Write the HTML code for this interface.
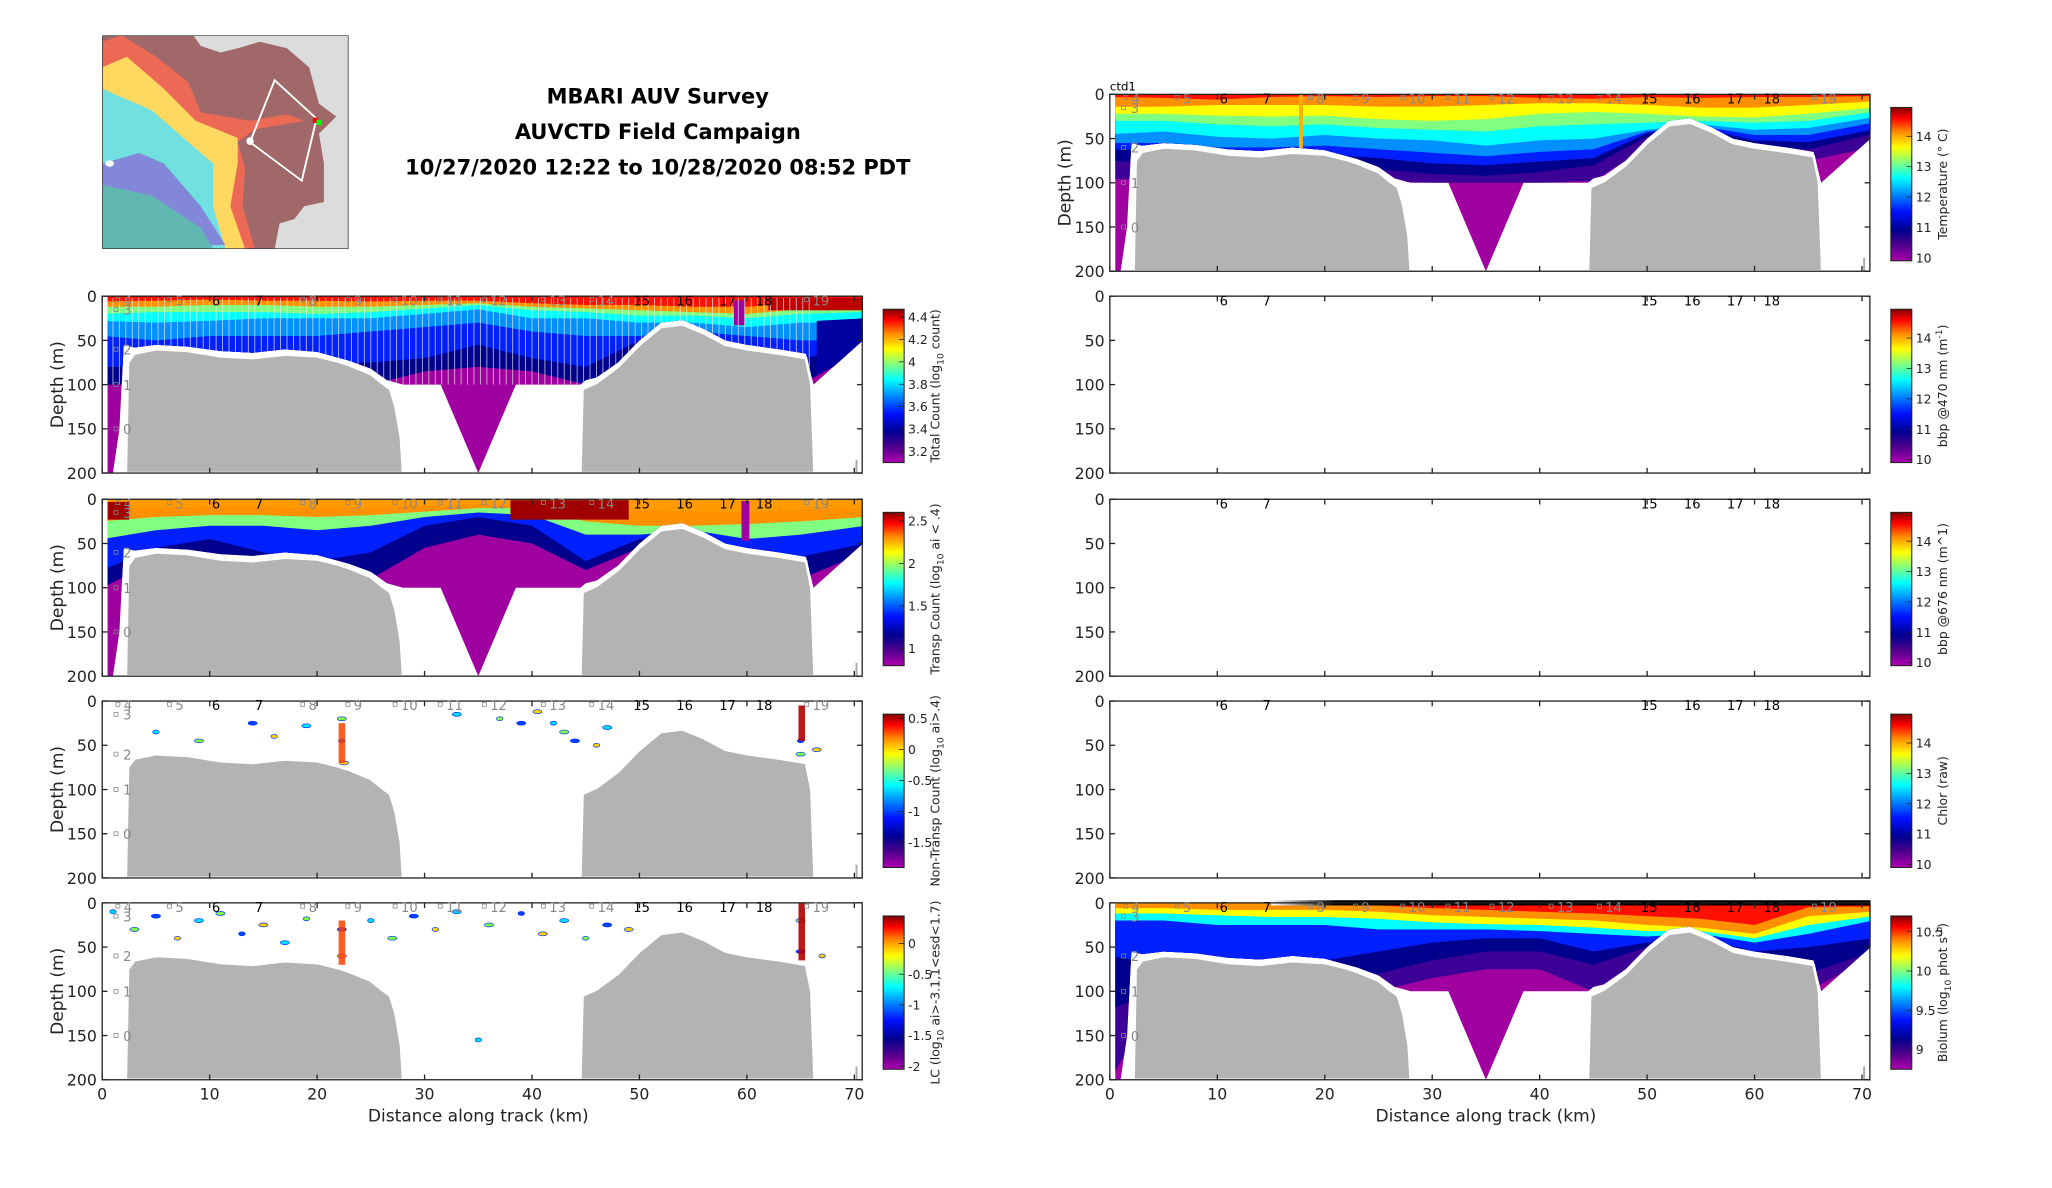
<!DOCTYPE html>
<html><head><meta charset="utf-8"><style>
html,body{margin:0;padding:0;background:#fff;}
svg{display:block;font-family:"DejaVu Sans","Liberation Sans",sans-serif;}
</style></head><body>
<svg id="fig" width="2052" height="1188" viewBox="0 0 1566 906.6" preserveAspectRatio="none" xmlns="http://www.w3.org/2000/svg">
<defs>
<linearGradient id="jet" x1="0" y1="1" x2="0" y2="0">
<stop offset="0" stop-color="#b000b0"/><stop offset="0.1" stop-color="#50008c"/><stop offset="0.2" stop-color="#000090"/><stop offset="0.32" stop-color="#0010ff"/><stop offset="0.44" stop-color="#0090ff"/><stop offset="0.54" stop-color="#00ffff"/><stop offset="0.64" stop-color="#80ff80"/><stop offset="0.74" stop-color="#ffff00"/><stop offset="0.84" stop-color="#ff8c00"/><stop offset="0.93" stop-color="#ff0000"/><stop offset="1" stop-color="#800000"/>
</linearGradient>
<linearGradient id="fadebar" x1="0" x2="1"><stop offset="0" stop-color="#fff"/><stop offset="1" stop-color="#000"/></linearGradient>
</defs>
<g id="root"></g>
</svg>
<script>
// ---- data ----
const xTicks = [0,10,20,30,40,50,60,70];
const yTicks = [0,50,100,150,200];
const stationLabels = ['4','5','6','7','8','9','10','11','12','13','14','15','16','17','18','19'];
const stationKm =     [1.4,6.2,10.6,14.6,18.6,22.8,27.2,31.4,35.5,41,45.5,50.2,54.2,58.2,61.6,65.5];
const stationBlack =  [0,0,1,1,0,0,0,0,0,0,0,1,1,1,1,0];
const sideLabels = ['3','2','1','0'];
const sideDepth = [15,60,100,150];
const bathyKmL = [2.2,2.4,3,5,8,11,14,17,20,22,23,25,26,26.8,27.3,27.8,28];
const bathyDepL = [200,75,65,60,62,68,70,66,68,74,78,88,98,105,125,160,200];
const bathyKmR = [44.5,44.7,46,48,50,52,54,56,58,60,63,65.5,66,66.3];
const bathyDepR = [200,105,98,80,55,35,32,42,55,60,65,70,100,200];
const dataKm  = [0.5,1.0,1.6,2.0,3,5,8,11,14,17,20,23,25,26.5,28,31.5,35,38.5,44.5,45,46,48,50,52,54,56,58,60,63,65.5,66.2,70.8];
const dataBot = [200,200,150,55,58,55,57,62,64,60,63,73,82,95,100,100,200,100,100,95,92,75,50,30,27,37,50,55,60,65,100,50];
const gridKm = [0,5,10,15,20,25,30,35,40,45,50,55,60,65,71];
const tempLevels = [
 [96,96,98,98,96,98,100,100,100,98,60,50,70,75,60],
 [75,78,80,80,80,85,90,92,88,80,48,40,60,62,45],
 [62,64,68,70,68,72,78,80,76,72,44,38,52,54,40],
 [55,55,60,60,58,62,66,70,65,62,42,36,46,46,32],
 [45,42,48,50,46,50,52,58,52,50,40,34,40,38,26],
 [30,30,34,36,34,38,40,42,36,34,32,30,32,30,20],
 [22,22,24,25,24,28,30,28,22,20,22,25,26,22,15],
 [14,14,12,12,12,14,14,12,10,10,12,15,15,12,8],
 [3,4,6,3,2,3,2,2,4,5,3,4,3,3,2]];
const countLevels = [
 [100,100,100,100,100,100,85,80,85,100,60,50,70,100,60],
 [80,80,80,78,75,75,70,55,70,80,50,45,60,70,60],
 [45,50,45,45,45,40,35,30,40,45,45,40,45,50,50],
 [28,30,28,25,25,25,20,15,25,25,30,30,35,30,30],
 [20,18,18,18,20,18,14,10,16,18,22,22,25,20,18],
 [12,12,10,10,12,12,10,8,12,14,16,18,20,15,12],
 [6,5,4,5,5,6,5,5,8,10,10,12,12,8,8]];
const transpLevels = [
 [100,70,60,100,100,90,55,40,50,80,55,45,70,90,60],
 [80,55,45,60,70,60,30,20,30,70,45,40,60,65,50],
 [45,35,30,30,35,30,20,15,18,40,40,35,45,40,30],
 [25,20,18,18,20,18,14,10,10,25,30,30,28,25,20],
 [10,10,8,8,10,10,8,6,6,10,12,14,15,12,10]];
const biolumLevels = [
 [200,100,100,100,100,100,85,75,75,100,60,50,70,100,60],
 [120,100,90,95,90,80,65,55,55,70,50,45,65,80,55],
 [60,70,70,70,65,55,45,40,40,55,45,40,55,50,40],
 [20,20,25,25,25,30,30,30,32,35,38,35,45,35,20],
 [12,12,14,16,16,18,22,24,25,28,32,32,40,25,15],
 [6,6,8,8,8,10,14,16,18,20,25,28,35,15,10],
 [0,0,0,0,0,3,6,8,10,12,15,18,25,5,4]];
const ncBlobKm = [5,9,14,16,19,22.3,22.3,22.5,33,37,39,40.5,42,43,44,46,47,65,65,66.5];
const ncBlobDep = [35,45,25,40,28,20,45,70,15,20,25,12,25,35,45,50,30,60,45,55];
const lcBlobKm = [1,3,5,7,9,11,13,15,17,19,22.3,22.3,25,27,29,31,33,36,39,41,43,45,47,49,35,65,65,67];
const lcBlobDep = [10,30,15,40,20,12,35,25,45,18,30,60,20,40,15,30,10,25,12,35,20,40,25,30,155,20,55,60];

const jet = ['#a000a0','#3c0096','#00008c','#0020ff','#0090ff','#00ffff','#80ff80','#ffff00','#ff9000','#ff1000','#900000'];
const NS='http://www.w3.org/2000/svg';
const root=document.getElementById('root');
const kmPx=8.2, mPx=0.675, PH=135, PW=580;
function el(tag,attrs,parent){const e=document.createElementNS(NS,tag);for(const k in attrs)e.setAttribute(k,attrs[k]);(parent||root).appendChild(e);return e;}
function txt(s,attrs,parent){const e=el('text',attrs,parent);e.textContent=s;return e;}
let clipN=0;

function panel(name,x0,y0,opts){
  const g=el('g',{});
  
  
  const X=k=>x0+k*kmPx, Y=d=>y0+d*mPx;
  const dataPts=[[0.5,0],[70.8,0]];
  for(let i=dataKm.length-1;i>=0;i--) dataPts.push([dataKm[i],dataBot[i]]);
  const dataPoly=dataPts.map(p=>X(p[0])+','+Y(p[1])).join(' ');
  if(opts.levels){
    const cid='clip'+(clipN++);
    const cp=el('clipPath',{id:cid},g); el('polygon',{points:dataPoly},cp);
    const fg=el('g',{'clip-path':'url(#'+cid+')'},g);
    const field=el('rect',{x:x0,y:y0,width:PW,height:PH,fill:opts.colors[0]},fg);
    
    
    opts.levels.forEach((lev,li)=>{
      let pts=[[0,0]];
      gridKm.forEach((k,i)=>pts.push([k,lev[i]]));
      pts.push([71,0]);
      const p=el('polygon',{points:pts.map(q=>X(q[0])+','+Y(q[1])).join(' '),fill:opts.colors[li+1]},fg);
      
      
    });
    if(opts.extra) opts.extra(fg,X,Y);
    if(opts.stripes){
      for(let k=1;k<66;k+=0.6){
        el('line',{x1:X(k),x2:X(k),y1:Y(2),y2:Y(100),stroke:'#e8e8e8','stroke-width':0.7,opacity:0.75},fg);
      }
    }
  }
  if(opts.blobs){
    opts.blobs[0].forEach((k,i)=>{
      const c=['#00e0ff','#80ff40','#0040ff','#ffd000'][i%4];
      const b=el('ellipse',{cx:X(k),cy:Y(opts.blobs[1][i]),rx:i%3?3.5:2.5,ry:1.5,fill:c,stroke:'#0030ff','stroke-width':0.5},g);
      
      
    });
    const col=el('rect',{x:X(22),y:Y(opts.colTop),width:5,height:opts.colH*mPx,fill:'#ff4000',opacity:0.85},g);
    
    
    const col2=el('rect',{x:X(64.8),y:Y(opts.colTop2),width:5,height:opts.colH2*mPx,fill:'#b00000',opacity:0.9},g);
    
    
  }
  if(opts.bathy){
    [[bathyKmL,bathyDepL],[bathyKmR,bathyDepR]].forEach(([ks,ds])=>{
      const pts=ks.map((k,i)=>X(k)+','+Y(ds[i])).join(' ');
      const b=el('polygon',{points:pts,fill:'#b3b3b3',stroke:'#fff','stroke-width':2},g);
      
      
    });
    el('line',{x1:X(70.2),x2:X(70.2),y1:Y(185),y2:Y(200),stroke:'#aaa','stroke-width':1.5},g);
  }
  if(opts.topbar){
    el('rect',{x:X(15),y:y0-2,width:6*kmPx,height:4,fill:'url(#fadebar)'},g);
    const tb=el('rect',{x:X(21),y:y0-2,width:49.8*kmPx,height:4,fill:'#000'},g);
    
    
  }
  const fr=el('rect',{x:x0,y:y0,width:PW,height:PH,fill:'none',stroke:'#222','stroke-width':1},g);
  
  
  yTicks.forEach(t=>{
    el('line',{x1:x0,x2:x0+4,y1:Y(t),y2:Y(t),stroke:'#222'},g);
    el('line',{x1:x0+PW,x2:x0+PW-4,y1:Y(t),y2:Y(t),stroke:'#222'},g);
    const tl=txt(String(t),{x:x0-4,y:Y(t)+4.5,'font-size':12,'text-anchor':'end',fill:'#222'},g);
    
    
  });
  xTicks.forEach(t=>{
    el('line',{x1:X(t),x2:X(t),y1:y0+PH,y2:y0+PH-4,stroke:'#222'},g);
    el('line',{x1:X(t),x2:X(t),y1:y0,y2:y0+4,stroke:'#222'},g);
    if(opts.xlab){
      const tl=txt(String(t),{x:X(t),y:y0+PH+15,'font-size':12,'text-anchor':'middle',fill:'#222'},g);
      
      
    }
  });
  if(opts.xlab){
    const xl=txt('Distance along track (km)',{x:x0+PW/2-3,y:y0+PH+32,'font-size':13,'text-anchor':'middle',fill:'#222'},g);
    
    
  }
  if(opts.ylab){
    const yl=txt('Depth (m)',{x:0,y:0,'font-size':13,'text-anchor':'middle',fill:'#222',transform:'translate('+(x0-30)+','+(y0+PH/2)+') rotate(-90)'},g);
    
    
  }
  const showGray=!!opts.bathy;
  stationLabels.forEach((s,i)=>{
    const black=stationBlack[i];
    if(!black && !showGray) return;
    const t=txt(s,{x:X(stationKm[i])+(black?0:5),y:y0+7,'font-size':10,fill:black?'#000':'#888','text-anchor':black?'middle':'start'},g);
    
    
    if(!black) el('rect',{x:X(stationKm[i])-1,y:y0+1,width:3,height:3,fill:'none',stroke:'#888','stroke-width':0.6},g);
  });
  if(showGray) sideLabels.forEach((s,i)=>{
    const t=txt(s,{x:x0+16,y:Y(sideDepth[i])+4,'font-size':10,fill:'#888'},g);
    
    
    el('rect',{x:x0+9,y:Y(sideDepth[i])-1.5,width:3,height:3,fill:'none',stroke:'#888','stroke-width':0.6},g);
  });
  const cx=x0+PW+16, cy=y0+10, ch=117;
  const cb=el('rect',{x:cx,y:cy,width:16,height:ch,fill:'url(#jet)',stroke:'#222','stroke-width':0.8},g);
  
  
  const [lo,hi]=opts.cbRange;
  opts.cbTicks.forEach(v=>{
    const yy=cy+ch-(v-lo)/(hi-lo)*ch;
    el('line',{x1:cx+12,x2:cx+16,y1:yy,y2:yy,stroke:'#222','stroke-width':0.6},g);
    const t=txt(String(v),{x:cx+19,y:yy+3.5,'font-size':9.5,fill:'#222'},g);
    
    
  });
  const ct=el('text',{x:0,y:0,'font-size':9.5,'text-anchor':'middle',fill:'#222',transform:'translate('+(cx+43)+','+(cy+ch/2)+') rotate(-90)'},g);
  ct.innerHTML=opts.cbLabel;
  
  
  return g;
}

panel('total-count',78,226,{levels:countLevels,colors:[jet[0],jet[2],jet[3],jet[4],jet[5],jet[6],jet[8],jet[9]],stripes:true,bathy:true,ylab:true,
  cbRange:[3.1,4.47],cbTicks:[3.2,3.4,3.6,3.8,4,4.2,4.4],cbLabel:'Total Count (log<tspan font-size="7" dy="3">10</tspan><tspan dy="-3"> count)</tspan>',
  extra:(g,X,Y)=>{el('rect',{x:X(58.8),y:Y(5),width:8,height:28*mPx,fill:'#a000a0'},g);el('rect',{x:X(62),y:Y(2),width:9*kmPx,height:14*mPx,fill:'#c00000'},g);el('polygon',{points:[X(66.5)+','+Y(28),X(71)+','+Y(25),X(71)+','+Y(60),X(66.5)+','+Y(90)].join(' '),fill:'#0000a0'},g);}});
panel('transp-count',78,381,{levels:transpLevels,colors:[jet[0],jet[2],jet[3],jet[6],jet[8],'#ff9a00'],bathy:true,ylab:true,
  cbRange:[0.8,2.6],cbTicks:[1,1.5,2,2.5],cbLabel:'Transp Count (log<tspan font-size="7" dy="3">10</tspan><tspan dy="-3"> ai &lt; .4)</tspan>',
  extra:(g,X,Y)=>{el('rect',{x:X(38),y:Y(1),width:11*kmPx,height:22*mPx,fill:'#a00000'},g);el('rect',{x:X(0.5),y:Y(3),width:2*kmPx,height:20*mPx,fill:'#a00000'},g);el('rect',{x:X(59.5),y:Y(2),width:6,height:45*mPx,fill:'#a000a0'},g);}});
panel('non-transp-count',78,535,{bathy:true,ylab:true,blobs:[ncBlobKm,ncBlobDep],colTop:25,colH:45,colTop2:5,colH2:40,
  cbRange:[-1.9,0.57],cbTicks:[-1.5,-1,-0.5,0,0.5],cbLabel:'Non-Transp Count (log<tspan font-size="7" dy="3">10</tspan><tspan dy="-3"> ai&gt;.4)</tspan>'});
panel('lc-count',78,689,{bathy:true,ylab:true,xlab:true,blobs:[lcBlobKm,lcBlobDep],colTop:20,colH:50,colTop2:0,colH2:65,
  cbRange:[-2.05,0.45],cbTicks:[-2,-1.5,-1,-0.5,0],cbLabel:'LC (log<tspan font-size="7" dy="3">10</tspan><tspan dy="-3"> ai&gt;-3.1,1&lt;esd&lt;1.7)</tspan>'});
panel('temperature',847,72,{levels:tempLevels,colors:[jet[0],jet[1],jet[2],jet[3],jet[4],jet[5],jet[6],jet[7],jet[8],jet[9],jet[10]],bathy:true,ylab:true,
  cbRange:[9.9,14.95],cbTicks:[10,11,12,13,14],cbLabel:'Temperature (° C)',
  extra:(g,X,Y)=>{el('rect',{x:X(17.6),y:Y(0),width:3,height:68*mPx,fill:'#ffb000'},g);}});
panel('bbp-470',847,226,{cbRange:[9.9,14.95],cbTicks:[10,11,12,13,14],cbLabel:'bbp @470 nm (m<tspan font-size="7" dy="-4">-1</tspan><tspan dy="4">)</tspan>'});
panel('bbp-676',847,381,{cbRange:[9.9,14.95],cbTicks:[10,11,12,13,14],cbLabel:'bbp @676 nm (m^1)'});
panel('chlor',847,535,{cbRange:[9.9,14.95],cbTicks:[10,11,12,13,14],cbLabel:'Chlor (raw)'});
panel('biolum',847,689,{levels:biolumLevels,colors:[jet[0],jet[1],jet[2],jet[3],jet[5],jet[7],jet[8],jet[9]],bathy:true,xlab:true,topbar:true,
  cbRange:[8.75,10.7],cbTicks:[9,9.5,10,10.5],cbLabel:'Biolum (log<tspan font-size="7" dy="3">10</tspan><tspan dy="-3"> phot s</tspan><tspan font-size="7" dy="-4">-1</tspan><tspan dy="4">)</tspan>'});
const ctd=txt('ctd1',{x:847,y:69,'font-size':9,fill:'#000'});



['MBARI AUV Survey','AUVCTD Field Campaign','10/27/2020 12:22 to 10/28/2020 08:52 PDT'].forEach((s,i)=>{
  const t=txt(s,{x:502,y:79+i*27,'font-size':16,'font-weight':'bold','text-anchor':'middle',fill:'#000'});
  
  
});

const map=el('svg',{x:78,y:27,width:188,height:163,viewBox:'0 0 100 100',preserveAspectRatio:'none'});


el('rect',{x:0,y:0,width:100,height:100,fill:'#dcdcdc'},map);
el('polygon',{points:'0,0 37,0 40,5 48,8 55,6 64,3 75,6 84,15 88,32 95,38 88,46 90,60 90,78 82,80 78,86 72,88 70,100 0,100',fill:'#a06868'},map);
el('polygon',{points:'0,3 8,0 22,10 35,22 40,36 60,40 75,37 82,40 62,44 55,50 58,62 57,80 62,100 0,100',fill:'#ff6a50',opacity:0.8},map);
el('polygon',{points:'0,15 10,10 25,25 38,40 55,48 55,60 52,80 58,100 0,100',fill:'#ffd860'},map);
el('polygon',{points:'0,25 10,30 20,35 35,50 45,60 45,80 50,100 0,100',fill:'#70e0e0'},map);
el('polygon',{points:'0,60 15,55 25,60 40,80 50,98 0,100',fill:'#8870d8',opacity:0.8},map);
el('polygon',{points:'0,70 20,75 40,90 45,100 0,100',fill:'#60b8b0'},map);
el('polygon',{points:'70,21 87,39 81,68 60,50',fill:'none',stroke:'#fff','stroke-width':0.8},map);
el('rect',{x:85.5,y:38.5,width:2,height:2.5,fill:'#f00'},map);
el('rect',{x:87,y:39.5,width:2,height:2.5,fill:'#0f0'},map);
el('ellipse',{cx:60,cy:49.5,rx:1.5,ry:1.8,fill:'#fff'},map);
el('ellipse',{cx:3,cy:60,rx:1.8,ry:1.5,fill:'#fff'},map);
el('rect',{x:0,y:0,width:100,height:100,fill:'none',stroke:'#333','stroke-width':0.6},map);
</script>
</body></html>
